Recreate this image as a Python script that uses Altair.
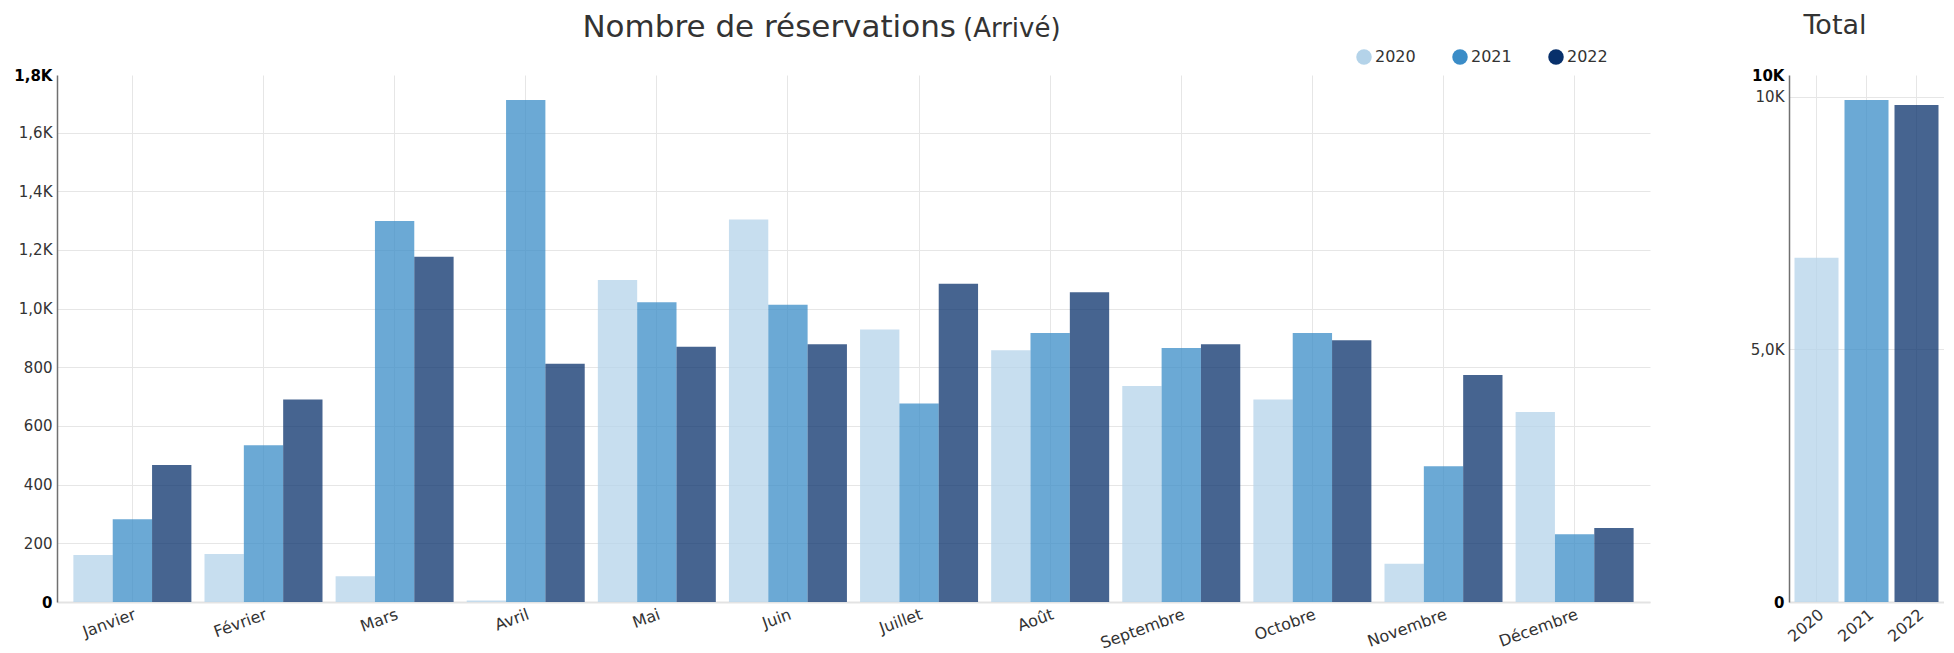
import altair as alt
import pandas as pd

# ---- data ----
months = ["Janvier", "Février", "Mars", "Avril", "Mai", "Juin", "Juillet",
          "Août", "Septembre", "Octobre", "Novembre", "Décembre"]
years = ["2020", "2021", "2022"]
v2020 = [160, 164, 88, 5, 1098, 1304, 929, 858, 736, 690, 130, 648]
v2021 = [282, 534, 1299, 1711, 1022, 1013, 677, 917, 866, 917, 463, 231]
v2022 = [467, 690, 1177, 812, 870, 879, 1085, 1056, 879, 892, 774, 252]
colors = ["#b4d3e9", "#3a8cc7", "#08306b"]
title_main = "Nombre de réservations"
title_sub = "(Arrivé)"
title_total = "Total"
main_ticks = [0, 200, 400, 600, 800, 1000, 1200, 1400, 1600]
total_ticks = [0, 5000, 10000]

rows = []
for yr, vals in zip(years, [v2020, v2021, v2022]):
    for m, v in zip(months, vals):
        rows.append({"mois": m, "annee": yr, "n": v})
df = pd.DataFrame(rows)
tot = df.groupby("annee", as_index=False)["n"].sum()

ymax_m = float(df["n"].max()) * 1.05
ymax_t = float(tot["n"].max()) * 1.05

FONT = "DejaVu Sans"
TXT = "#333333"
GRID = "#e6e6e6"
label_expr = "datum.value == 0 ? '0' : upper(replace(format(datum.value, '.2s'), '.', ','))"


def yaxis(values, top):
    edge = f"datum.value == 0 || datum.value >= {top - 0.5}"
    return alt.Axis(
        values=values + [top], labelExpr=label_expr, title=None, ticks=False,
        labelPadding=5, labelFontSize=15, labelFont=FONT, labelOverlap=False,
        labelFontWeight={"condition": {"test": edge, "value": "bold"}, "value": "normal"},
        labelColor={"condition": {"test": edge, "value": "#000000"}, "value": TXT},
        gridOpacity={"condition": {"test": f"datum.value >= {top - 0.5}", "value": 0}, "value": 1},
        gridColor=GRID, gridWidth=1, domainColor="#707070", domainWidth=1.5,
    )


def xaxis(angle, size):
    return alt.Axis(
        title=None, ticks=False, grid=True, gridColor=GRID, gridWidth=1,
        labelAngle=angle, labelAlign="right", labelBaseline="top", labelPadding=4,
        labelFont=FONT, labelFontSize=size, labelColor=TXT,
        domainColor="#e3e3e3", domainWidth=2,
    )


color_scale = alt.Scale(domain=years, range=colors)

bars = alt.Chart(df).mark_bar(opacity=0.75).encode(
    x=alt.X("mois:N", sort=months,
            scale=alt.Scale(paddingInner=0.1, paddingOuter=0.125), axis=xaxis(340, 16)),
    xOffset=alt.XOffset("annee:N", sort=years,
                        scale=alt.Scale(paddingInner=0, paddingOuter=0)),
    y=alt.Y("n:Q", scale=alt.Scale(domain=[0, ymax_m], nice=False),
            axis=yaxis(main_ticks, ymax_m)),
    color=alt.Color("annee:N", scale=color_scale, legend=alt.Legend(
        title=None, orient="none", legendX=1299, legendY=-26, direction="horizontal",
        symbolType="circle", symbolSize=240, symbolStrokeWidth=0, symbolOpacity=1,
        labelFont=FONT, labelFontSize=16, labelColor=TXT, labelOffset=3,
        columnPadding=36, padding=0)),
)

t_main = alt.Chart(pd.DataFrame({"t": [title_main]})).mark_text(
    align="right", baseline="alphabetic", font=FONT, fontSize=31, color=TXT
).encode(x=alt.value(899), y=alt.value(-38), text="t:N")

t_sub = alt.Chart(pd.DataFrame({"t": [title_sub]})).mark_text(
    align="left", baseline="alphabetic", font=FONT, fontSize=26, color=TXT
).encode(x=alt.value(906), y=alt.value(-38), text="t:N")

main = alt.layer(bars, t_main, t_sub).properties(width=1593, height=527)

tbars = alt.Chart(tot).mark_bar(opacity=0.75).encode(
    x=alt.X("annee:N", sort=years,
            scale=alt.Scale(paddingInner=0.12, paddingOuter=0.11), axis=xaxis(320, 16)),
    y=alt.Y("n:Q", scale=alt.Scale(domain=[0, ymax_t], nice=False),
            axis=yaxis(total_ticks, ymax_t)),
    color=alt.Color("annee:N", scale=color_scale, legend=None),
)

t_total = alt.Chart(pd.DataFrame({"t": [title_total]})).mark_text(
    align="center", baseline="alphabetic", font=FONT, fontSize=27, color=TXT
).encode(x=alt.value(46), y=alt.value(-41), text="t:N")

right = alt.layer(tbars, t_total).properties(width=155, height=527)

chart = alt.hconcat(main, right, spacing=139, bounds="flush").resolve_legend(
    color="independent"
).properties(
    padding={"left": 5, "top": 4, "right": 0, "bottom": 4}
).configure_view(stroke=None)

chart.save("out.html", embed_options={"renderer": "svg", "actions": False})
